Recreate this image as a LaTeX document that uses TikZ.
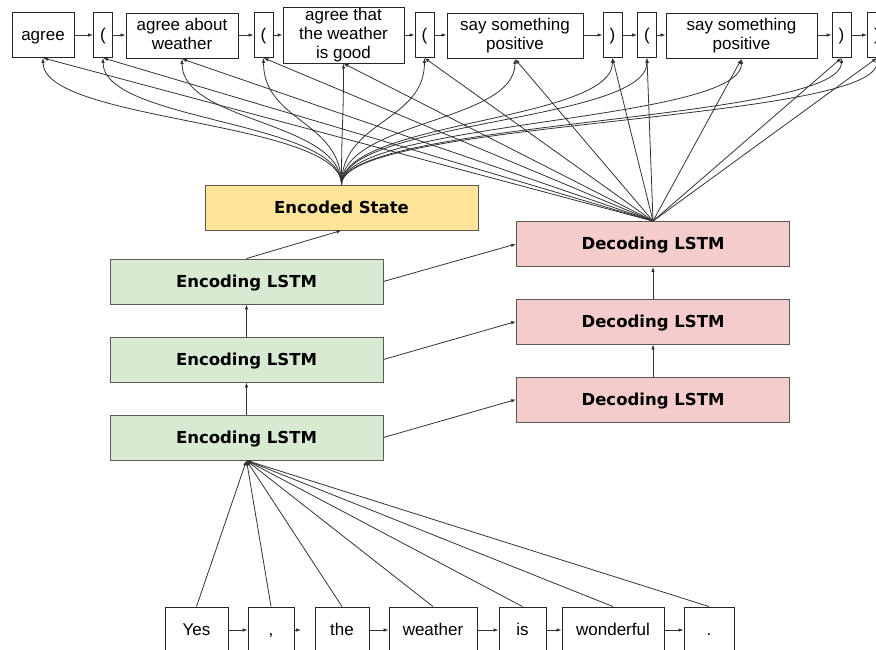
\documentclass[tikz,border=0pt]{standalone}
\usepackage{fontspec}
\setmainfont{Liberation Sans}
\newfontfamily\lstmfont{DejaVu Sans}
\usetikzlibrary{arrows.meta}
\definecolor{stateyellow}{HTML}{FFE599}
\definecolor{encgreen}{HTML}{D9EAD3}
\definecolor{decpink}{HTML}{F4CCCC}
\definecolor{edgegray}{HTML}{333333}
\newcommand\topstrut{\rule{0pt}{15.4pt}}
\newcommand\botstrut{\rule[-3.6pt]{0pt}{3.6pt}}

\begin{document}
\begin{tikzpicture}
  [x=1pt, y=1pt,
   word/.style={draw=black!85, line width=0.9pt, minimum height=45pt, inner sep=0pt,
     align=center, font=\fontsize{17}{19.2}\selectfont,
     execute at begin node=\topstrut, execute at end node=\botstrut},
   tok/.style={word, minimum height=46pt},
   lstm/.style={draw=black!65, line width=0.9pt, minimum width=273pt, minimum height=45pt,
     text height=12pt, text depth=0pt,
     font=\lstmfont\bfseries\fontsize{16.5}{19}\selectfont},
   link/.style={draw=edgegray, line width=0.8pt, -{Latex[length=5pt,width=3.6pt]}}]
  \useasboundingbox (0,0) rectangle (876,650);
  \clip (0,0) rectangle (876,650);

  \node[word, minimum width=62pt] (t1) at (43,615) {agree};
  \node[word, minimum width=19pt] (t2) at (103,615) {(};
  \node[word, minimum width=112pt] (t3) at (182,614) {agree about\\weather};
  \node[word, minimum width=19pt] (t4) at (263.5,615) {(};
  \node[word, minimum width=121pt, minimum height=56pt] (t5) at (343.5,615) {agree that\\the weather\\is good};
  \node[word, minimum width=19pt] (t6) at (424.5,615) {(};
  \node[word, minimum width=136pt] (t7) at (515,614) {say something\\positive};
  \node[word, minimum width=19pt] (t8) at (612.5,615) {)};
  \node[word, minimum width=19pt] (t9) at (647,615) {(};
  \node[word, minimum width=151pt] (t10) at (741.5,614) {say something\\positive};
  \node[word, minimum width=19pt] (t11) at (841.5,615) {)};
  \node[word, minimum width=19pt] (t12) at (877,615) {)};

  \node[lstm, fill=stateyellow] (es) at (341.5,442.5) {Encoded State};
  \node[lstm, fill=encgreen] (e1) at (246.5,368.5) {Encoding LSTM};
  \node[lstm, fill=encgreen] (e2) at (246.5,290.5) {Encoding LSTM};
  \node[lstm, fill=encgreen] (e3) at (246.5,212.5) {Encoding LSTM};
  \node[lstm, fill=decpink] (d1) at (653,406) {Decoding LSTM};
  \node[lstm, fill=decpink] (d2) at (653,328.5) {Decoding LSTM};
  \node[lstm, fill=decpink] (d3) at (653,250.5) {Decoding LSTM};

  \node[tok, minimum width=63pt] (b1) at (196.5,20) {Yes};
  \node[tok, minimum width=46pt] (b2) at (271,20) {,};
  \node[tok, minimum width=54pt] (b3) at (342,20) {the};
  \node[tok, minimum width=88pt] (b4) at (433,20) {weather};
  \node[tok, minimum width=47pt] (b5) at (522.5,20) {is};
  \node[tok, minimum width=102pt] (b6) at (613,20) {wonderful};
  \node[tok, minimum width=50pt] (b7) at (709,20) {.};
  \coordinate (b2tip) at (301,20);

  \foreach \i [evaluate=\i as \j using int(\i+1)] in {1,...,11}
    \draw[link] (t\i.east |- 0,615) -- (t\j.west |- 0,615);
  \foreach \i in {1,...,12} {
    \draw[link] (es.north) .. controls +(0,64) and +(0,-64) .. (t\i.south);
    \draw[link] (d1.north) -- (t\i.south);
  }

  \draw[link] (e3) -- (e2);
  \draw[link] (e2) -- (e1);
  \draw[link] (e1.north) -- (es.south);
  \draw[link] (e1.east) -- (d1.west);
  \draw[link] (e2.east) -- (d2.west);
  \draw[link] (e3.east) -- (d3.west);
  \draw[link] (d3) -- (d2);
  \draw[link] (d2) -- (d1);

  \foreach \i in {1,...,7}
    \draw[link] (b\i.north) -- (e3.south);
  \draw[link] (b1) -- (b2);
  \draw[link] (b2.east) -- (b2tip);
  \foreach \a/\b in {b3/b4, b4/b5, b5/b6, b6/b7}
    \draw[link] (\a) -- (\b);
\end{tikzpicture}
\end{document}
